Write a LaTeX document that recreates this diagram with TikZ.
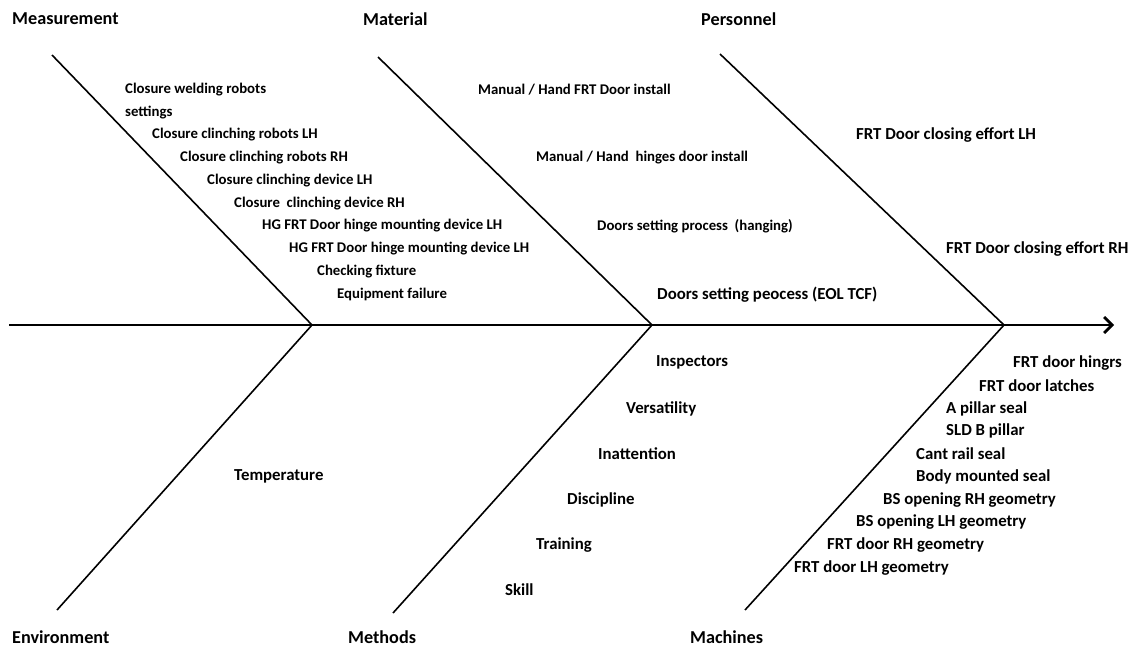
\documentclass[tikz,border=0pt]{standalone}
\usepackage{fontspec}
\setmainfont{Carlito}
\usetikzlibrary{arrows.meta}
\begin{document}
\begin{tikzpicture}[x=1pt,y=-1pt,
  txt/.style={anchor=west,inner sep=0pt,yshift=-1.8pt},
  hdr/.style={txt,font=\fontsize{18.2}{20}\selectfont\bfseries},
  itms/.style={txt,font=\fontsize{14.8}{16}\selectfont\bfseries},
  itml/.style={txt,font=\fontsize{16.8}{18}\selectfont\bfseries},
  bone/.style={line width=1.6pt,black},
  spine/.style={line width=2.8pt,black,-{Straight Barb[length=8pt,width=16pt,line width=2.8pt]}}]
\fill[white] (0,0) rectangle (1134,648);
\useasboundingbox (0,0) rectangle (1134,648);
% spine
\coordinate (s0) at (9,325);
\coordinate (s1) at (1114,325);
\coordinate (j1) at (312,325);
\coordinate (j2) at (652,325);
\coordinate (j3) at (1004,325);
\draw[spine] (s0) -- (s1);
% bone ends
\coordinate (meT) at (52,55);
\coordinate (maT) at (378,57);
\coordinate (peT) at (720,54);
\coordinate (enB) at (57,610);
\coordinate (mtB) at (393,613);
\coordinate (mcB) at (745,610);
\draw[bone] (meT) -- (j1);
\draw[bone] (enB) -- (j1);
\draw[bone] (maT) -- (j2);
\draw[bone] (mtB) -- (j2);
\draw[bone] (peT) -- (j3);
\draw[bone] (mcB) -- (j3);
% headers
\node[hdr] (hMe) at (12,17) {Measurement};
\node[hdr] (hMa) at (363,17) {Material};
\node[hdr] (hPe) at (701,17) {Personnel};
\node[hdr] (hEn) at (12,635) {Environment};
\node[hdr] (hMt) at (348,635) {Methods};
\node[hdr] (hMc) at (690,635) {Machines};
% measurement
\node[itms] (me1) at (125,88) {Closure welding robots};
\node[itms] (me1b) at (125,111) {settings};
\node[itms] (me2) at (152,133) {Closure clinching robots LH};
\node[itms] (me3) at (180,156) {Closure clinching robots RH};
\node[itms] (me4) at (207,179) {Closure clinching device LH};
\node[itms] (me5) at (234,202) {Closure\ \ clinching device RH};
\node[itms] (me6) at (262,224) {HG FRT Door hinge mounting device LH};
\node[itms] (me7) at (289,247) {HG FRT Door hinge mounting device LH};
\node[itms] (me8) at (317,270) {Checking fixture};
\node[itms] (me9) at (337,293) {Equipment failure};
% material
\node[itms] (ma1) at (478,88) {Manual / Hand FRT Door install};
\node[itms] (ma2) at (536,156) {Manual / Hand\ \ hinges door install};
\node[itms] (ma3) at (597,224) {Doors setting process\ \ (hanging)};
\node[itml] (ma4) at (657,293) {Doors setting peocess (EOL TCF)};
% personnel
\node[itml] (pe1) at (856,133) {FRT Door closing effort LH};
\node[itml] (pe2) at (946,247) {FRT Door closing effort RH};
% environment
\node[itml] (en1) at (234,475) {Temperature};
% methods
\node[itml] (mt1) at (656,361) {Inspectors};
\node[itml] (mt2) at (626,407) {Versatility};
\node[itml] (mt3) at (598,452) {Inattention};
\node[itml] (mt4) at (567,498) {Discipline};
\node[itml] (mt5) at (536,543) {Training};
\node[itml] (mt6) at (505,588) {Skill};
% machines
\node[itml] (mc1) at (1013,361) {FRT door hingrs};
\node[itml] (mc2) at (979,384) {FRT door latches};
\node[itml] (mc3) at (946,407) {A pillar seal};
\node[itml] (mc4) at (946,429) {SLD B pillar};
\node[itml] (mc5) at (916,452) {Cant rail seal};
\node[itml] (mc6) at (916,475) {Body mounted seal};
\node[itml] (mc7) at (883,498) {BS opening RH geometry};
\node[itml] (mc8) at (856,520) {BS opening LH geometry};
\node[itml] (mc9) at (827,543) {FRT door RH geometry};
\node[itml] (mc10) at (794,566) {FRT door LH geometry};
\end{tikzpicture}
\end{document}
